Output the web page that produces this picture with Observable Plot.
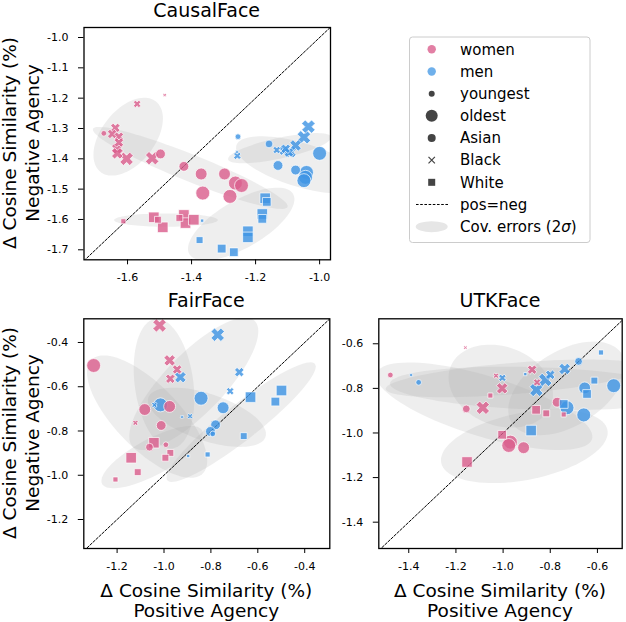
<!DOCTYPE html>
<html><head><meta charset="utf-8">
<script src="https://cdn.jsdelivr.net/npm/d3@7"></script>
<script src="https://cdn.jsdelivr.net/npm/@observablehq/plot@0.6"></script>
<style>
html,body{margin:0;padding:0;background:#fff;}
#fig{position:relative;width:626px;height:622px;overflow:hidden;font-family:"DejaVu Sans",sans-serif;}
#fig > svg{position:absolute;left:0;top:0;}
</style></head><body><div id="fig"></div>
<script>
// ---------- categories ----------
const genders = ["women", "men"];
const races = ["Asian", "Black", "White"];

// ---------- tick labels ----------
const causalXTicks = [-1.6, -1.4, -1.2, -1.0];
const causalYTicks = [-1.0, -1.1, -1.2, -1.3, -1.4, -1.5, -1.6, -1.7];
const fairXTicks = [-1.2, -1.0, -0.8, -0.6, -0.4];
const fairYTicks = [-0.4, -0.6, -0.8, -1.0, -1.2];
const utkXTicks = [-1.4, -1.2, -1.0, -0.8, -0.6];
const utkYTicks = [-0.6, -0.8, -1.0, -1.2, -1.4];

// axis extents [x domain], [y domain]
const causalDomX = [-1.736, -0.966], causalDomY = [-1.733, -0.967];
const fairDomX = [-1.342, -0.293], fairDomY = [-1.331, -0.293];
const utkDomX = [-1.527, -0.495], utkDomY = [-1.518, -0.488];

// ---------- series: [positive agency, negative agency, age group (0 = youngest)] ----------
const causalWomenAsian = [[-1.674,-1.316,1],[-1.497,-1.384,3],[-1.424,-1.425,3],[-1.370,-1.450,4],[-1.297,-1.450,4],[-1.263,-1.480,5],[-1.244,-1.488,5],[-1.365,-1.513,5],[-1.280,-1.524,5]];
const causalWomenBlack = [[-1.484,-1.190,0],[-1.570,-1.219,2],[-1.638,-1.298,3],[-1.648,-1.318,3],[-1.627,-1.327,3],[-1.627,-1.346,3],[-1.632,-1.367,4],[-1.632,-1.382,4],[-1.603,-1.400,5],[-1.523,-1.398,5]];
const causalWomenWhite = [[-1.613,-1.606,1],[-1.518,-1.593,4],[-1.505,-1.601,2],[-1.490,-1.626,4],[-1.438,-1.595,2],[-1.424,-1.585,4],[-1.419,-1.612,4],[-1.393,-1.601,4]];
const causalMenAsian = [[-1.255,-1.327,1],[-1.158,-1.351,2],[-1.130,-1.422,3],[-1.075,-1.437,3],[-1.000,-1.382,5],[-1.041,-1.445,5],[-1.044,-1.461,5],[-1.049,-1.472,5]];
const causalMenBlack = [[-1.258,-1.377,0],[-1.257,-1.390,2],[-1.134,-1.371,2],[-1.112,-1.373,3],[-1.096,-1.379,3],[-1.091,-1.378,4],[-1.106,-1.367,3],[-1.075,-1.356,4],[-1.049,-1.329,5],[-1.035,-1.294,5]];
const causalMenWhite = [[-1.367,-1.604,0],[-1.170,-1.530,4],[-1.165,-1.542,3],[-1.179,-1.582,4],[-1.179,-1.598,3],[-1.224,-1.639,4],[-1.224,-1.659,4],[-1.375,-1.668,2],[-1.306,-1.696,3],[-1.268,-1.708,3]];

const fairWomenAsian = [[-1.300,-0.504,5],[-1.082,-0.703,4],[-0.976,-0.689,4],[-1.012,-0.775,3],[-0.992,-0.862,1],[-1.062,-0.873,2]];
const fairWomenBlack = [[-1.019,-0.323,5],[-0.976,-0.481,4],[-0.944,-0.522,3],[-0.973,-0.564,3],[-1.122,-0.763,1]];
const fairWomenWhite = [[-1.043,-0.853,4],[-0.973,-0.899,2],[-0.994,-0.921,2],[-1.140,-0.921,4],[-1.112,-0.986,2],[-1.207,-1.019,1]];
const fairMenAsian = [[-1.015,-0.682,5],[-0.842,-0.652,5],[-0.748,-0.695,4],[-0.780,-0.772,3],[-0.802,-0.802,3],[-0.792,-0.813,1]];
const fairMenBlack = [[-0.771,-0.365,5],[-0.930,-0.557,4],[-0.679,-0.534,3],[-0.718,-0.620,2],[-0.889,-0.733,1],[-0.923,-0.736,0],[-1.041,-0.682,1]];
const fairMenWhite = [[-0.631,-0.647,4],[-0.499,-0.617,4],[-0.525,-0.667,3],[-0.660,-0.823,2],[-0.814,-0.906,1],[-0.897,-0.913,0]];

const utkWomenAsian = [[-1.478,-0.740,1],[-1.156,-0.892,2],[-0.771,-0.862,3],[-0.969,-1.041,5],[-0.976,-1.056,5],[-0.913,-1.066,4]];
const utkWomenBlack = [[-1.160,-0.617,0],[-1.030,-0.743,1],[-1.004,-0.800,4],[-1.086,-0.887,5],[-0.877,-0.716,3],[-0.856,-0.773,2]];
const utkWomenWhite = [[-1.054,-0.832,1],[-0.860,-0.896,3],[-0.817,-0.912,2],[-1.004,-1.008,3],[-1.153,-1.130,4],[-0.743,-0.917,1]];
const utkMenAsian = [[-1.358,-0.773,1],[-0.680,-0.679,2],[-0.654,-0.798,4],[-0.531,-0.788,5],[-0.658,-0.919,5],[-0.729,-0.887,5]];
const utkMenBlack = [[-1.390,-0.740,0],[-1.003,-0.753,2],[-0.859,-0.807,5],[-0.821,-0.762,5],[-0.800,-0.739,3],[-0.739,-0.713,4]];
const utkMenWhite = [[-0.906,-0.736,0],[-0.585,-0.639,1],[-0.613,-0.765,2],[-0.644,-0.825,3],[-0.743,-0.870,3],[-0.881,-0.989,4]];

// ---------- covariance ellipses (2σ): [gender, race, centre x, centre y, semi-major, semi-minor, angle°] ----------
const causalEllipses = [
  ["women","Black",-1.598,-1.327,0.145,0.085,55],
  ["women","Asian",-1.404,-1.430,0.330,0.044,-23],
  ["women","White",-1.480,-1.602,0.162,0.022,0],
  ["men","White",-1.245,-1.615,0.190,0.077,32],
  ["men","Black",-1.125,-1.365,0.165,0.034,13],
  ["men","Asian",-1.060,-1.420,0.210,0.072,-18]
];
const fairEllipses = [
  ["women","Asian",-1.072,-0.735,0.350,0.140,-48],
  ["women","Black",-1.000,-0.586,0.295,0.125,97],
  ["men","Black",-0.873,-0.587,0.385,0.130,48],
  ["men","Asian",-0.817,-0.738,0.265,0.105,-20],
  ["women","White",-1.051,-0.918,0.245,0.080,30],
  ["men","White",-0.671,-0.760,0.410,0.078,40]
];
const utkEllipses = [
  ["women","Asian",-1.080,-0.880,0.480,0.135,-18],
  ["women","Black",-1.010,-0.790,0.230,0.175,-25],
  ["women","White",-0.910,-1.060,0.360,0.150,12],
  ["men","Asian",-0.860,-0.800,0.620,0.095,-2],
  ["men","Black",-0.950,-0.755,0.550,0.070,5],
  ["men","White",-0.730,-0.800,0.280,0.165,35]
];

// ---------- styling ----------
const pink = "#db5f8d", blue = "#3f95e4";
const symbolX = {
  draw(ctx, size) {
    const r = Math.sqrt(size / Math.PI), w = 0.36 * r;
    const pts = [[-w,-r],[w,-r],[w,-w],[r,-w],[r,w],[w,w],[w,r],[-w,r],[-w,w],[-r,w],[-r,-w],[-w,-w]]
      .map(([x, y]) => [(x - y) / Math.SQRT2, (x + y) / Math.SQRT2]);
    ctx.moveTo(pts[0][0], pts[0][1]);
    for (let i = 1; i < pts.length; ++i) ctx.lineTo(pts[i][0], pts[i][1]);
    ctx.closePath();
  }
};

function table(groups) {
  const rows = [];
  for (const [gender, race, arr] of groups)
    for (const [x, y, age] of arr) rows.push({x, y, age, gender, race});
  return rows;
}
function ellipsePoints(ells) {
  const out = [];
  ells.forEach((e, k) => {
    const [g, r, cx, cy, a, b, deg] = e, th = deg * Math.PI / 180;
    for (let i = 0; i <= 90; ++i) {
      const t = i / 90 * 2 * Math.PI;
      out.push({id: k,
        x: cx + a * Math.cos(th) * Math.cos(t) - b * Math.sin(th) * Math.sin(t),
        y: cy + a * Math.sin(th) * Math.cos(t) + b * Math.cos(th) * Math.sin(t)});
    }
  });
  return out;
}

function panel({groups, ellipses, domX, domY, xTicks, yTicks, m}) {
  const pts = table(groups);
  const lo = Math.min(domX[0], domY[0]), hi = Math.max(domX[1], domY[1]);
  const fmt = d => d.toFixed(1);
  return Plot.plot({
    width: 626, height: 622,
    marginLeft: m[0], marginRight: m[1], marginTop: m[2], marginBottom: m[3],
    style: {background: "transparent", fontFamily: "DejaVu Sans", fontSize: "11px", color: "black", overflow: "visible"},
    x: {domain: domX, ticks: xTicks, tickFormat: fmt, tickSize: 5, tickPadding: 8.5, label: null},
    y: {domain: domY, ticks: yTicks, tickFormat: fmt, tickSize: 5.5, tickPadding: 10, label: null},
    color: {domain: genders, range: [pink, blue]},
    symbol: {domain: races, range: [d3.symbolCircle, symbolX, d3.symbolSquare]},
    r: {type: "linear", domain: [0, 6], range: [1.8, 8]},
    marks: [
      Plot.line(ellipsePoints(ellipses), {x: "x", y: "y", z: "id", fill: "#a8a8a8", fillOpacity: 0.2, stroke: "none", curve: "linear-closed", clip: true}),
      Plot.line([lo, hi], {x: d => d, y: d => d, stroke: "black", strokeWidth: 1, strokeDasharray: "2.6,1.6", clip: true}),
      Plot.dot(pts, {x: "x", y: "y", r: "age", fill: "gender", symbol: "race", stroke: "white", strokeWidth: 0.7, fillOpacity: 0.82, clip: true}),
      Plot.frame({stroke: "black", strokeWidth: 1.3})
    ]
  });
}

const fig = document.getElementById("fig");
fig.appendChild(panel({
  groups: [["women","Asian",causalWomenAsian],["women","Black",causalWomenBlack],["women","White",causalWomenWhite],
           ["men","Asian",causalMenAsian],["men","Black",causalMenBlack],["men","White",causalMenWhite]],
  ellipses: causalEllipses, domX: causalDomX, domY: causalDomY, xTicks: causalXTicks, yTicks: causalYTicks,
  m: [83.5, 296, 27, 362.7]
}));
fig.appendChild(panel({
  groups: [["women","Asian",fairWomenAsian],["women","Black",fairWomenBlack],["women","White",fairWomenWhite],
           ["men","Asian",fairMenAsian],["men","Black",fairMenBlack],["men","White",fairMenWhite]],
  ellipses: fairEllipses, domX: fairDomX, domY: fairDomY, xTicks: fairXTicks, yTicks: fairYTicks,
  m: [83.3, 296.7, 318.3, 74]
}));
fig.appendChild(panel({
  groups: [["women","Asian",utkWomenAsian],["women","Black",utkWomenBlack],["women","White",utkWomenWhite],
           ["men","Asian",utkMenAsian],["men","Black",utkMenBlack],["men","White",utkMenWhite]],
  ellipses: utkEllipses, domX: utkDomX, domY: utkDomY, xTicks: utkXTicks, yTicks: utkYTicks,
  m: [378.3, 4.3, 318.3, 74]
}));

// ---------- titles, axis labels and legend ----------
const ns = "http://www.w3.org/2000/svg";
const ov = document.createElementNS(ns, "svg");
ov.setAttribute("width", 626); ov.setAttribute("height", 622);
ov.setAttribute("font-family", "DejaVu Sans");
fig.appendChild(ov);
function el(tag, attrs, text) {
  const e = document.createElementNS(ns, tag);
  for (const k in attrs) e.setAttribute(k, attrs[k]);
  if (text != null) e.textContent = text;
  ov.appendChild(e);
  return e;
}
const titles = [["CausalFace", 206.7, 17], ["FairFace", 206.3, 307.3], ["UTKFace", 500, 307.3]];
for (const [t, x, y] of titles) el("text", {x, y, "text-anchor": "middle", "font-size": 19}, t);
const yLabel = ["Δ Cosine Similarity (%)", "Negative Agency"];
const xLabel = ["Δ Cosine Similarity (%)", "Positive Agency"];
for (const cy of [143, 433]) {
  el("text", {transform: `translate(16,${cy}) rotate(-90)`, "text-anchor": "middle", "font-size": 18.5}, yLabel[0]);
  el("text", {transform: `translate(38.5,${cy}) rotate(-90)`, "text-anchor": "middle", "font-size": 18.5}, yLabel[1]);
}
for (const cx of [206.3, 500]) {
  el("text", {x: cx, y: 597, "text-anchor": "middle", "font-size": 18.5}, xLabel[0]);
  el("text", {x: cx, y: 617.3, "text-anchor": "middle", "font-size": 18.5}, xLabel[1]);
}
// legend
const legendLabels = ["women", "men", "youngest", "oldest", "Asian", "Black", "White", "pos=neg", "Cov. errors (2σ)"];
el("rect", {x: 409.5, y: 37, width: 180.5, height: 205.5, rx: 3, fill: "white", "fill-opacity": 0.8, stroke: "#cccccc", "stroke-width": 1});
const mx = 431.7, dark = "#444";
legendLabels.forEach((lab, i) => {
  const cy = 49.3 + i * 22.17;
  if (lab.startsWith("Cov")) {
    const t = el("text", {x: 460, y: cy + 5.3, "font-size": 15}, "Cov. errors (2");
    const s = document.createElementNS(ns, "tspan"); s.setAttribute("font-style", "italic"); s.textContent = "σ"; t.appendChild(s);
    t.appendChild(document.createTextNode(")"));
  } else el("text", {x: 460, y: cy + 5.3, "font-size": 15}, lab);
  if (i === 0) el("circle", {cx: mx, cy, r: 4.2, fill: pink, "fill-opacity": 0.8});
  if (i === 1) el("circle", {cx: mx, cy, r: 4.2, fill: blue, "fill-opacity": 0.75});
  if (i === 2) el("circle", {cx: mx, cy, r: 3, fill: dark});
  if (i === 3) el("circle", {cx: mx, cy, r: 6, fill: dark});
  if (i === 4) el("circle", {cx: mx, cy, r: 4, fill: dark});
  if (i === 5) el("path", {d: `M${mx-3.2},${cy-3.2}L${mx+3.2},${cy+3.2}M${mx-3.2},${cy+3.2}L${mx+3.2},${cy-3.2}`, stroke: dark, "stroke-width": 1.2});
  if (i === 6) el("rect", {x: mx - 3.5, y: cy - 3.5, width: 7, height: 7, fill: dark});
  if (i === 7) el("line", {x1: 416, x2: 448, y1: cy, y2: cy, stroke: "black", "stroke-width": 1, "stroke-dasharray": "2.6,1.6"});
  if (i === 8) el("ellipse", {cx: mx, cy, rx: 16, ry: 5.5, fill: "#e6e6e6"});
});
</script></body></html>
